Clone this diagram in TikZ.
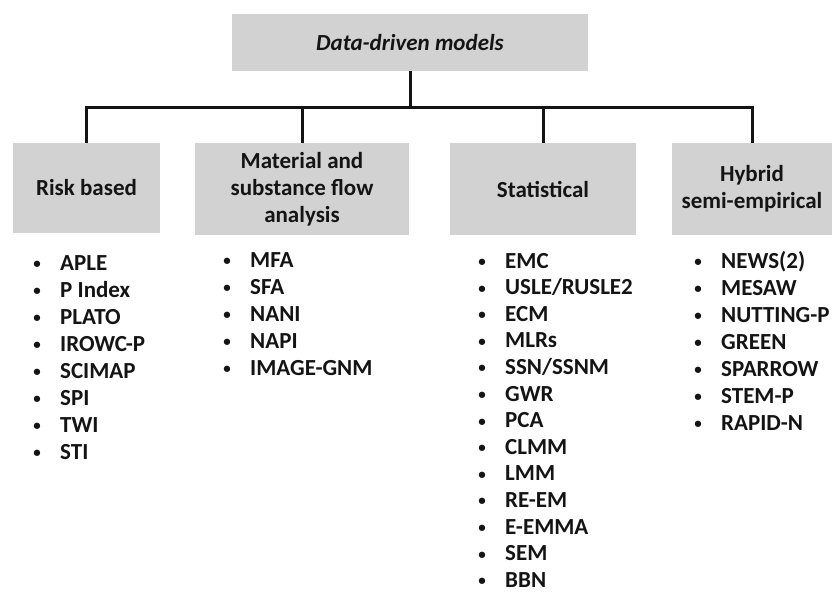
\documentclass[tikz,border=0pt]{standalone}
\usepackage{fontspec}
\setmainfont{Carlito}
\definecolor{boxgray}{RGB}{210,210,210}
\definecolor{ink}{RGB}{20,20,20}
\tikzset{
  hbox/.style={rectangle, fill=boxgray, draw=none, inner sep=0pt, align=center,
    font=\fontsize{23pt}{27pt}\selectfont\bfseries, text=ink},
  conn/.style={line width=3pt, draw=ink},
  item/.style={anchor=base west, inner sep=0pt, font=\fontsize{23pt}{27pt}\selectfont\bfseries, text=ink}
}
\newcommand{\bul}[1]{\makebox[0pt]{\raisebox{1.5pt}{\scalebox{0.65}{\textbullet}}}\hspace{23pt}#1}
\begin{document}
\begin{tikzpicture}[x=1pt,y=-1pt]
\useasboundingbox (0,0) rectangle (833,592);
\node[hbox, minimum width=356pt, minimum height=57pt] (top) at (410,42.5) {\itshape Data-driven models};
\node[hbox, minimum width=147pt, minimum height=90pt] (risk) at (86.5,188) {Risk based};
\node[hbox, minimum width=214pt, minimum height=92pt] (mat) at (302,189) {Material and\\substance flow\\analysis};
\node[hbox, minimum width=186pt, minimum height=92pt] (stat) at (543,189) {Statistical};
\node[hbox, minimum width=160pt, minimum height=92pt] (hyb) at (752,189) {Hybrid\\semi-empirical};
\coordinate (bus) at (410,107);
\draw[conn] (top.south) -- (top.south |- bus);
\draw[conn] (risk.north) -- (risk.north |- bus) -- (hyb.north |- bus) -- (hyb.north);
\draw[conn] (mat.north) -- (mat.north |- bus);
\draw[conn] (stat.north) -- (stat.north |- bus);
\foreach \t [count=\i from 0] in {APLE,P Index,PLATO,IROWC-P,SCIMAP,SPI,TWI,STI}
  \node[item] (r\i) at (37,{270+27*\i}) {\bul{\t}};
\foreach \t [count=\i from 0] in {MFA,SFA,NANI,NAPI,IMAGE-GNM}
  \node[item] (m\i) at (227,{267+27*\i}) {\bul{\t}};
\foreach \t [count=\i from 0] in {EMC,USLE/RUSLE2,ECM,MLRs,SSN/SSNM,GWR,PCA,CLMM,LMM,RE-EM,E-EMMA,SEM,BBN}
  \node[item] (s\i) at (482,{268+26.6*\i}) {\bul{\t}};
\foreach \t [count=\i from 0] in {NEWS(2),MESAW,NUTTING-P,GREEN,SPARROW,STEM-P,RAPID-N}
  \node[item] (h\i) at (698,{268+27*\i}) {\bul{\t}};
\end{tikzpicture}
\end{document}
